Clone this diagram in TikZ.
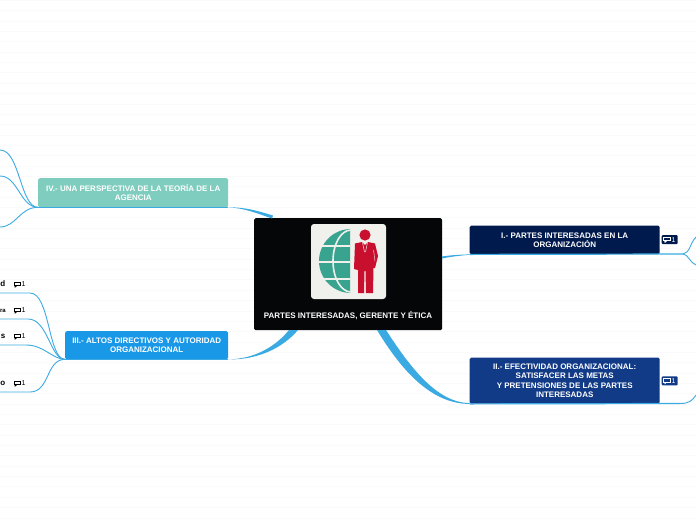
\documentclass[tikz,border=0pt]{standalone}
\usepackage{fontspec}
\setmainfont{Liberation Sans}
\definecolor{linkc}{HTML}{3CAAE2}
\definecolor{rootc}{HTML}{050607}
\definecolor{fourc}{HTML}{7FCDBF}
\definecolor{threec}{HTML}{1A98E8}
\definecolor{onec}{HTML}{001A4D}
\definecolor{twoc}{HTML}{113A87}
\definecolor{tilec}{HTML}{F0F0EC}
\definecolor{globec}{HTML}{38A48F}
\definecolor{manc}{HTML}{C8102E}
\definecolor{stripec}{HTML}{FAFAFA}
\tikzset{
  topic/.style={rounded corners=1.5pt,inner sep=0pt,text=white,align=center,font=\fontsize{8}{9.1}\selectfont\bfseries,anchor=north west},
  link/.style={draw=linkc,line width=0.9pt},
  taper/.style={fill=linkc,draw=none},
  leaf/.style={font=\fontsize{8}{9}\selectfont\bfseries,text=black,inner sep=0pt,anchor=east},
  ctext/.style={font=\fontsize{7}{8}\selectfont,inner sep=0pt,anchor=west},
  badge/.style={fill=#1,rounded corners=1pt,minimum width=16pt,minimum height=9pt,inner sep=0pt}
}
\newcommand{\cicon}[3]{% x,y,colour
  \draw[#3,line width=1pt,fill=none] (#1-3.2,#2-1.9) rectangle (#1+3,#2+1.6);
  \fill[#3] (#1-2.6,#2+1.6) -- (#1+0.2,#2+1.6) -- (#1-2.4,#2+3.8) -- cycle;
}
\begin{document}
\begin{tikzpicture}[x=1pt,y=-1pt]
\useasboundingbox (0,0) rectangle (696,520);
\fill[white] (0,0) rectangle (696,520);
\foreach \i in {0,...,50}{\draw[stripec,line width=1pt] (0,{0.5+10.35*\i}) -- (696,{0.5+10.35*\i});}

% nodes
\node[topic,fill=rootc,minimum width=188pt,minimum height=112pt] (root) at (254,218) {};
\node[topic,fill=fourc,minimum width=190pt,minimum height=29pt] (four) at (38,178) {IV.- UNA PERSPECTIVA DE LA TEORÍA DE LA\\AGENCIA};
\node[topic,fill=threec,minimum width=163pt,minimum height=28pt] (three) at (65,331) {III.- ALTOS DIRECTIVOS Y AUTORIDAD\\ORGANIZACIONAL};
\node[topic,fill=onec,minimum width=190pt,minimum height=28.5pt] (one) at (469.5,225.5) {I.- PARTES INTERESADAS EN LA\\ORGANIZACIÓN};
\node[topic,fill=twoc,minimum width=190pt,minimum height=46pt] (two) at (469.5,357.5) {II.- EFECTIVIDAD ORGANIZACIONAL:\\SATISFACER LAS METAS\\Y PRETENSIONES DE LAS PARTES\\INTERESADAS};

% free ends
\coordinate (f1) at (0,150); \coordinate (f2) at (0,176); \coordinate (f3) at (0,227);
\coordinate (g1) at (0,293); \coordinate (g2) at (0,319); \coordinate (g3) at (0,345); \coordinate (g4) at (0,392);
\coordinate (oneFork) at (683,254);
\coordinate (e1) at (696,237); \coordinate (e2) at (696,265); \coordinate (e3) at (696,395);

% thick tapered links from the root
\fill[taper] (four.south east) .. controls (245,207) and (258,211) .. (273,215.5) -- (272,218.5) .. controls (256,213) and (244,208) .. (four.south east) -- cycle;
\fill[taper] (three.south east) .. controls (255,359) and (276,346) .. (289,330) -- (298,330) .. controls (282,349) and (256,360) .. (three.south east) -- cycle;
\fill[taper] (442,256.5) .. controls (450,255.2) and (460,254.6) .. (one.south west) -- (469.5,254.8) .. controls (460,255.6) and (450,256.8) .. (442,258.5) -- cycle;
\fill[taper] (377,330) .. controls (400,368) and (430,404) .. (two.south west) -- (469.5,403) .. controls (436,403) and (408,364) .. (386,330) -- cycle;
% bars beneath the topics
\draw[link,line width=1.2pt] (four.south west) -- (four.south east);
\draw[link,line width=1.2pt] (three.south west) -- (three.south east);
\draw[link,line width=1.2pt] (one.south west) -- (oneFork);
\draw[link,line width=1.2pt] (two.south west) -- (680,403.5);

% branches
\draw[link] (four.south west) .. controls (20,207) and (20,150) .. (f1);
\draw[link] (four.south west) .. controls (20,207) and (18,176) .. (f2);
\draw[link] (four.south west) .. controls (20,207) and (16,227) .. (f3);
\draw[link] (three.south west) .. controls (48,359) and (50,293) .. (30,293) -- (g1);
\draw[link] (three.south west) .. controls (50,359) and (48,319) .. (28,319) -- (g2);
\draw[link] (three.south west) .. controls (52,359) and (44,345) .. (26,345) -- (g3);
\draw[link] (three.south west) .. controls (46,359) and (50,392) .. (30,392) -- (g4);
\draw[link] (oneFork) .. controls (690,253) and (690,243) .. (e1);
\draw[link] (oneFork) .. controls (688,254) and (690,263) .. (e2);
\draw[link] (680,403.5) .. controls (689,403.5) and (692,401) .. (e3);

% leaves
\node[leaf] (l1) at (5.5,284) {d};
\node[leaf,font=\fontsize{6}{7}\selectfont\bfseries] (l2) at (6,310.5) {ra};
\node[leaf] (l3) at (5.5,336) {s};
\node[leaf] (l4) at (5.5,383) {o};
\foreach \y in {284,310,336,383}{
  \cicon{17.2}{\y}{black}
  \node[ctext,text=black] at (21.3,\y) {1};
}

% badges
\node[badge=onec] (b1) at (669.7,239.6) {};
\node[badge=twoc] (b2) at (669.7,380.8) {};
\cicon{667}{239.3}{white}
\node[ctext,text=white] at (671.5,239.6) {1};
\cicon{667}{380.5}{white}
\node[ctext,text=white] at (671.5,380.8) {1};

% root contents
\node[font=\fontsize{8}{9}\selectfont\bfseries,text=white,inner sep=0pt] (rootlabel) at (348,316) {PARTES INTERESADAS, GERENTE Y ÉTICA};
\fill[tilec,rounded corners=3pt] (311,224) rectangle (386,299);
% globe
\begin{scope}
  \clip (319,229) rectangle (350,293.5);
  \fill[globec] (351,261) circle (32);
  \draw[tilec,line width=1.6pt] (351,261) ellipse (18 and 31);
  \draw[tilec,line width=1.6pt] (315,246) -- (352,246) (315,262) -- (352,262) (315,279) -- (352,279);
\end{scope}
% man
\fill[manc] (365,235) circle (5.6);
\fill[manc] (355,243.5) -- (362,242) -- (365,245) -- (368,242) -- (375,243.5) -- (378,256) -- (375,268)
  -- (373.5,268) -- (373,293) -- (366,293) -- (365.5,271) -- (364.5,271) -- (364,293) -- (358,293) -- (358,270) -- (354,269) -- cycle;
\draw[tilec,line width=0.5pt] (362.5,242.5) -- (364.5,252) (367.5,242.5) -- (365.5,252);
\draw[tilec,line width=0.4pt] (373.5,250) -- (375,261);
\end{tikzpicture}
\end{document}
